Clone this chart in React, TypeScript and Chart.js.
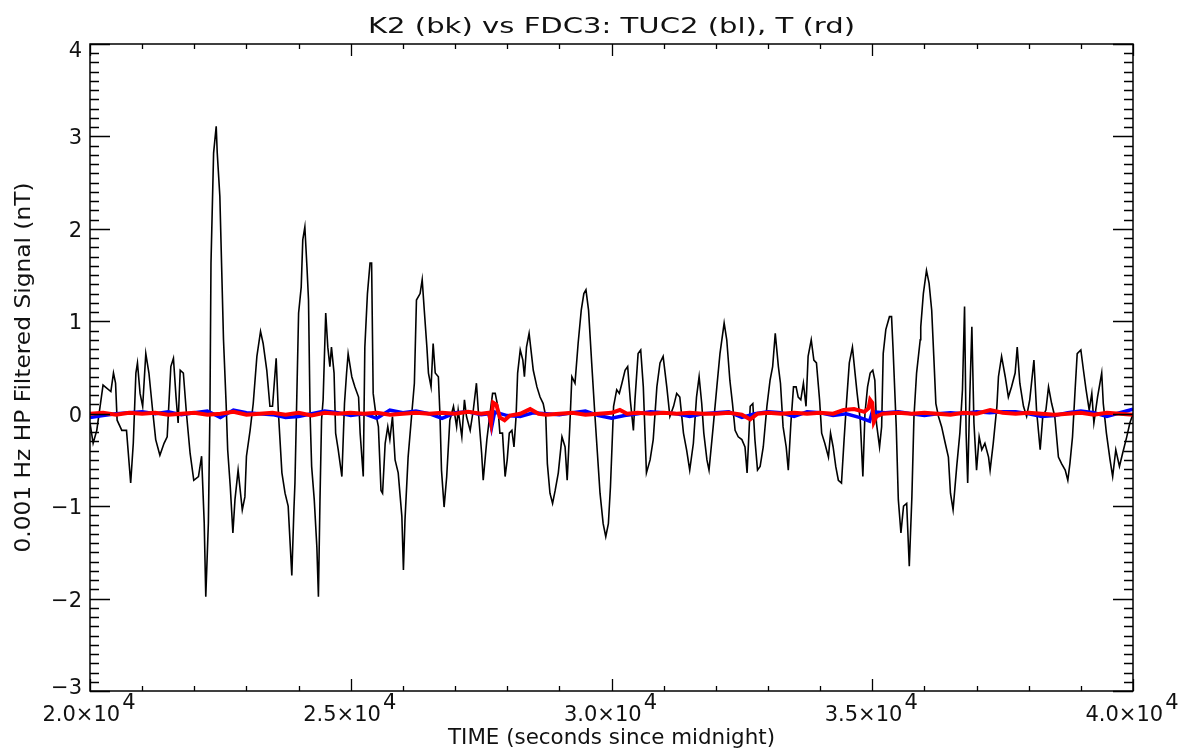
import React, { useEffect, useRef } from "react";
import { Chart, registerables } from "chart.js";

Chart.register(...registerables);

const CANVAS_W = 1183;
const CANVAS_H = 753;

const TITLE = "K2 (bk) vs FDC3: TUC2 (bl), T (rd)";
const X_TITLE = "TIME (seconds since midnight)";
const Y_TITLE = "0.001 Hz HP Filtered Signal (nT)";

const X_MIN = 20000;
const X_MAX = 40000;
const Y_MIN = -3;
const Y_MAX = 4;
const xMajorTicks = [20000, 25000, 30000, 35000, 40000];
const xTickMantissa = ["2.0", "2.5", "3.0", "3.5", "4.0"];
const xTickExponent = "4";
const X_MINOR_STEP = 1000;
const yMajorTicks = [-3, -2, -1, 0, 1, 2, 3, 4];
const yTickLabels = ["\u22123", "\u22122", "\u22121", "0", "1", "2", "3", "4"];
const Y_MINOR_STEP = 0.1;

// K2 (black)
const k2Times = [
  20000, 20060, 20130, 20250, 20400, 20450, 20490, 20520, 20610, 20700, 20780, 20830, 20880, 20910, 20960,
  21010, 21070, 21130, 21200, 21260, 21340, 21420, 21480, 21550, 21600, 21650, 21690, 21730, 21790, 21850,
  21920, 21990, 22080, 22140, 22190, 22220, 22270, 22300, 22320, 22370, 22420, 22440, 22490, 22560, 22610,
  22640, 22690, 22740, 22780, 22840, 22920, 22970, 23000, 23070, 23130, 23200, 23270, 23320, 23390, 23450,
  23500, 23570, 23610, 23680, 23740, 23800, 23870, 23910, 23930, 24000, 24050, 24080, 24120, 24160, 24190,
  24220, 24250, 24300, 24350, 24380, 24410, 24440, 24470, 24520, 24560, 24600, 24630, 24680, 24710, 24760,
  24830, 24880, 24920, 24950, 25020, 25080, 25150, 25180, 25240, 25270, 25320, 25370, 25400, 25430, 25480,
  25530, 25580, 25610, 25660, 25710, 25750, 25800, 25850, 25910, 25980, 26010, 26040, 26100, 26170, 26220,
  26260, 26330, 26370, 26410, 26460, 26490, 26540, 26580, 26620, 26680, 26710, 26740, 26790, 26840, 26900,
  26970, 27030, 27060, 27130, 27180, 27220, 27290, 27350, 27410, 27450, 27510, 27540, 27610, 27670, 27720,
  27770, 27820, 27860, 27910, 27960, 28000, 28040, 28090, 28130, 28170, 28200, 28250, 28300, 28330, 28370,
  28420, 28470, 28500, 28570, 28630, 28690, 28740, 28770, 28820, 28870, 28920, 28980, 29050, 29110, 29150,
  29200, 29240, 29300, 29360, 29420, 29470, 29510, 29560, 29620, 29680, 29730, 29780, 29840, 29890, 29940,
  29980, 30040, 30100, 30150, 30200, 30260, 30310, 30360, 30420, 30450, 30510, 30560, 30610, 30670, 30740,
  30800, 30870, 30930, 30990, 31060, 31120, 31190, 31250, 31310, 31380, 31440, 31500, 31570, 31630, 31680,
  31730, 31770, 31830, 31870, 31950, 32020, 32080, 32160, 32210, 32270, 32320, 32370, 32430, 32500, 32560,
  32600, 32660, 32710, 32750, 32800, 32850, 32910, 32980, 33040, 33090, 33140, 33200, 33240, 33290, 33350,
  33390, 33440, 33490, 33540, 33580, 33630, 33680, 33730, 33770, 33830, 33880, 33930, 33990, 34030, 34090,
  34160, 34200, 34250, 34300, 34350, 34410, 34460, 34510, 34560, 34620, 34670, 34710, 34770, 34820, 34860,
  34910, 34960, 35010, 35050, 35080, 35140, 35180, 35210, 35260, 35330, 35370, 35400, 35460, 35500, 35550,
  35600, 35660, 35710, 35760, 35800, 35850, 35920, 35930, 35980, 36040, 36090, 36140, 36180, 36220, 36270,
  36330, 36400, 36460, 36500, 36550, 36620, 36680, 36730, 36770, 36800, 36830, 36870, 36910, 36950, 37000,
  37050, 37100, 37160, 37230, 37260, 37320, 37390, 37420, 37480, 37550, 37610, 37670, 37740, 37780, 37830,
  37900, 37960, 38020, 38100, 38150, 38220, 38270, 38330, 38380, 38440, 38500, 38570, 38630, 38700, 38750,
  38790, 38840, 38890, 38930, 39000, 39050, 39100, 39160, 39210, 39250, 39320, 39400, 39430, 39490, 39560,
  39610, 39670, 39740, 39800, 39880, 39940, 40000,
];
const k2Values = [
  -0.10, -0.32, -0.18, 0.31, 0.24, 0.44, 0.33, -0.07, -0.18, -0.18, -0.75, -0.32, 0.44, 0.55, 0.22,
  0.08, 0.65, 0.44, 0.04, -0.28, -0.45, -0.32, -0.25, 0.51, 0.60, 0.18, -0.10, 0.47, 0.44, 0.00,
  -0.43, -0.72, -0.68, -0.46, -1.18, -1.98, -1.18, 0.04, 1.63, 2.82, 3.11, 2.82, 2.35, 0.80, 0.11,
  -0.39, -0.79, -1.29, -0.93, -0.61, -1.04, -0.90, -0.46, -0.18, 0.11, 0.62, 0.89, 0.76, 0.47, 0.08,
  0.08, 0.60, 0.04, -0.64, -0.86, -1.00, -1.75, -1.04, -0.75, 1.09, 1.37, 1.88, 2.02, 1.59, 1.23,
  0.00, -0.57, -0.93, -1.44, -1.98, -0.93, -0.07, 0.15, 1.09, 0.72, 0.51, 0.72, 0.44, -0.21, -0.39,
  -0.68, 0.11, 0.44, 0.65, 0.40, 0.29, 0.18, -0.21, -0.68, 0.72, 1.30, 1.63, 1.63, 0.22, 0.00,
  -0.14, -0.83, -0.86, -0.32, -0.14, -0.28, -0.03, -0.50, -0.64, -1.11, -1.69, -1.15, -0.47, 0.00, 0.33,
  1.23, 1.30, 1.45, 1.12, 0.72, 0.44, 0.29, 0.76, 0.44, 0.40, 0.00, -0.61, -1.01, -0.68, -0.07,
  0.08, -0.14, 0.04, -0.25, 0.15, -0.03, -0.18, 0.04, 0.33, 0.00, -0.43, -0.72, -0.28, 0.00, 0.22,
  0.22, 0.08, -0.21, -0.21, -0.68, -0.50, -0.21, -0.18, -0.36, -0.03, 0.44, 0.69, 0.58, 0.40, 0.72,
  0.87, 0.62, 0.47, 0.29, 0.18, 0.11, -0.03, -0.54, -0.86, -0.97, -0.83, -0.64, -0.25, -0.36, -0.72,
  -0.14, 0.40, 0.33, 0.76, 1.12, 1.30, 1.34, 1.12, 0.55, 0.00, -0.43, -0.86, -1.19, -1.33, -1.19,
  -0.79, 0.08, 0.26, 0.22, 0.33, 0.47, 0.51, 0.15, -0.18, 0.15, 0.65, 0.69, 0.29, -0.64, -0.50,
  -0.28, 0.29, 0.55, 0.62, 0.29, -0.03, 0.08, 0.22, 0.18, -0.21, -0.39, -0.61, -0.32, 0.18, 0.40,
  0.11, -0.21, -0.50, -0.61, -0.14, 0.29, 0.65, 0.98, 0.80, 0.36, 0.11, -0.18, -0.25, -0.28, -0.36,
  -0.64, 0.08, 0.11, -0.28, -0.61, -0.57, -0.36, 0.08, 0.36, 0.51, 0.87, 0.51, 0.33, -0.14, -0.36,
  -0.61, -0.10, 0.29, 0.29, 0.18, 0.15, 0.33, 0.08, 0.62, 0.80, 0.58, 0.55, 0.15, -0.21, -0.32,
  -0.47, -0.21, -0.36, -0.57, -0.72, -0.75, -0.28, 0.15, 0.55, 0.72, 0.44, 0.22, -0.07, -0.68, 0.00,
  0.29, 0.44, 0.47, 0.36, -0.10, -0.36, -0.14, 0.65, 0.91, 1.05, 1.05, 0.69, -0.14, -0.93, -1.29,
  -1.00, -0.97, -1.65, -0.90, -0.03, 0.44, 0.80, 0.94, 1.30, 1.55, 1.41, 1.12, 0.62, 0.11, -0.03,
  -0.14, -0.32, -0.47, -0.86, -1.04, -0.57, -0.21, 0.26, 1.16, -0.21, -0.75, 0.18, 0.94, -0.10, -0.61,
  -0.25, -0.39, -0.32, -0.47, -0.61, -0.32, 0.08, 0.40, 0.62, 0.40, 0.18, 0.29, 0.44, 0.72, 0.33,
  0.08, -0.03, 0.15, 0.58, 0.04, -0.39, -0.03, 0.04, 0.29, 0.11, -0.03, -0.47, -0.54, -0.61, -0.72,
  -0.54, -0.25, 0.26, 0.65, 0.69, 0.47, 0.26, 0.04, 0.22, -0.10, 0.18, 0.44, 0.11, -0.21, -0.50,
  -0.68, -0.39, -0.57, -0.43, -0.25, -0.10, 0.00,
];

// TUC2 (blue)
const tuc2Times = [
  20000, 20250, 20500, 20750, 21000, 21250, 21500, 21750, 22000, 22250, 22500, 22750, 23000, 23250, 23500,
  23750, 24000, 24250, 24500, 24750, 25000, 25250, 25500, 25750, 26000, 26250, 26500, 26750, 27000, 27250,
  27500, 27650, 27700, 27760, 28000, 28250, 28500, 28750, 29000, 29250, 29500, 29750, 30000, 30250, 30500,
  30750, 31000, 31250, 31500, 31750, 32000, 32250, 32500, 32750, 33000, 33250, 33500, 33750, 34000, 34250,
  34500, 34750, 34950, 35000, 35250, 35500, 35750, 36000, 36250, 36500, 36750, 37000, 37250, 37500, 37750,
  38000, 38250, 38500, 38750, 39000, 39250, 39500, 39750, 40000,
];
const tuc2Values = [
  -0.04, -0.02, 0.00, 0.01, 0.02, 0.00, 0.02, -0.01, 0.01, 0.03, -0.04, 0.04, 0.01, 0.00, -0.01,
  -0.04, -0.03, 0.00, 0.03, 0.01, -0.02, 0.00, -0.05, 0.04, 0.01, 0.03, 0.00, -0.05, 0.01, 0.02,
  -0.01, 0.00, -0.15, 0.02, -0.02, -0.03, 0.01, 0.00, -0.01, 0.01, 0.03, -0.02, -0.05, -0.02, 0.00,
  0.02, 0.01, 0.00, -0.03, 0.00, 0.01, 0.02, -0.04, 0.00, 0.02, 0.01, -0.03, 0.02, 0.01, -0.02,
  0.00, -0.04, -0.08, 0.02, 0.01, 0.02, 0.00, -0.02, 0.00, 0.01, 0.00, 0.02, 0.01, 0.02, 0.02,
  0.00, -0.03, -0.02, 0.01, 0.03, 0.01, -0.03, 0.01, 0.05,
];

// T (red)
const tTimes = [
  20000, 20250, 20500, 20750, 21000, 21250, 21500, 21750, 22000, 22250, 22500, 22750, 23000, 23250, 23500,
  23750, 24000, 24250, 24500, 24750, 25000, 25250, 25500, 25750, 26000, 26250, 26500, 26750, 27000, 27250,
  27500, 27650, 27690, 27730, 27790, 27860, 27950, 28050, 28250, 28440, 28600, 28750, 29000, 29250, 29500,
  29750, 30000, 30160, 30300, 30500, 30750, 31000, 31250, 31500, 31750, 32000, 32250, 32500, 32660, 32800,
  33000, 33250, 33500, 33750, 34000, 34250, 34450, 34650, 34850, 34930, 34960, 35000, 35030, 35080, 35200,
  35500, 35750, 36000, 36250, 36500, 36750, 37000, 37260, 37500, 37750, 38000, 38250, 38500, 38750, 39000,
  39250, 39500, 39750, 40000,
];
const tValues = [
  0.00, 0.01, -0.01, 0.01, 0.00, 0.01, -0.01, 0.00, 0.01, -0.01, 0.00, 0.02, -0.01, 0.00, 0.01,
  -0.01, 0.01, -0.02, 0.01, 0.00, 0.01, 0.00, 0.01, -0.01, 0.00, 0.01, 0.00, 0.01, 0.00, 0.02,
  0.00, 0.01, -0.10, 0.12, 0.10, -0.04, -0.07, -0.02, 0.00, 0.05, 0.00, -0.01, 0.00, 0.01, -0.01,
  0.00, 0.01, 0.04, 0.00, 0.01, 0.00, 0.01, 0.00, 0.01, 0.00, 0.00, 0.01, -0.01, -0.06, 0.00,
  0.01, 0.00, 0.01, 0.00, 0.01, 0.00, 0.04, 0.05, 0.02, 0.06, 0.15, 0.12, -0.09, -0.03, 0.00,
  0.01, 0.00, 0.01, 0.00, -0.01, 0.01, 0.00, 0.04, 0.01, 0.00, 0.01, 0.00, -0.01, 0.00, 0.01,
  -0.01, 0.01, 0.00, -0.01,
];

const FONT_FAMILY = '"DejaVu Sans", sans-serif';

function pairs(xs: number[], ys: number[]) {
  return xs.map((x, i) => ({ x, y: ys[i] }));
}

function drawFitText(
  ctx: CanvasRenderingContext2D,
  text: string,
  cx: number,
  baseline: number,
  width: number,
  size: number
) {
  ctx.save();
  ctx.font = `${size}px ${FONT_FAMILY}`;
  const w = ctx.measureText(text).width;
  const sx = width / w;
  ctx.translate(cx, baseline);
  ctx.scale(sx, 1);
  ctx.textAlign = "center";
  ctx.textBaseline = "alphabetic";
  ctx.fillText(text, 0, 0);
  ctx.restore();
}

const idlAxesPlugin = {
  id: "idlAxes",
  afterDraw(chart: any) {
    const { ctx, chartArea: a, scales } = chart;
    const xs = scales.x;
    const ys = scales.y;
    ctx.save();
    ctx.strokeStyle = "#000";
    ctx.fillStyle = "#111";
    ctx.lineWidth = 1.5;
    ctx.strokeRect(a.left, a.top, a.right - a.left, a.bottom - a.top);

    ctx.lineWidth = 1.3;
    ctx.beginPath();
    for (let v = X_MIN; v <= X_MAX + 1e-6; v += X_MINOR_STEP) {
      const px = Math.round(xs.getPixelForValue(v)) + 0.5;
      const major = xMajorTicks.includes(v);
      const len = major ? 12 : 5;
      ctx.moveTo(px, a.bottom);
      ctx.lineTo(px, a.bottom - len);
      ctx.moveTo(px, a.top);
      ctx.lineTo(px, a.top + len);
    }
    const nMinor = Math.round((Y_MAX - Y_MIN) / Y_MINOR_STEP);
    for (let i = 0; i <= nMinor; i++) {
      const v = Y_MIN + i * Y_MINOR_STEP;
      const py = Math.round(ys.getPixelForValue(v)) + 0.5;
      const major = i % 10 === 0;
      const len = major ? 20 : 9;
      ctx.moveTo(a.left, py);
      ctx.lineTo(a.left + len, py);
      ctx.moveTo(a.right, py);
      ctx.lineTo(a.right - len, py);
    }
    ctx.stroke();

    ctx.font = `21px ${FONT_FAMILY}`;
    ctx.textAlign = "right";
    ctx.textBaseline = "alphabetic";
    yMajorTicks.forEach((v, i) => {
      let py = ys.getPixelForValue(v) + 8;
      if (v === Y_MAX) py += 5;
      if (v === Y_MIN) py -= 5;
      ctx.fillText(yTickLabels[i], a.left - 8, py);
    });

    xMajorTicks.forEach((v, i) => {
      const px = xs.getPixelForValue(v);
      const base = `${xTickMantissa[i]}\u00d710`;
      ctx.font = `21px ${FONT_FAMILY}`;
      const bw = ctx.measureText(base).width;
      const ew = ctx.measureText(xTickExponent).width;
      const total = bw + 2 + ew;
      const left = px - total / 2 - 1;
      ctx.textAlign = "left";
      ctx.fillText(base, left, a.bottom + 30);
      ctx.fillText(xTickExponent, left + bw + 2, a.bottom + 18);
    });

    drawFitText(ctx, TITLE, (a.left + a.right) / 2, 33, 487, 21);
    drawFitText(ctx, X_TITLE, (a.left + a.right) / 2, 744, 327, 21);
    ctx.save();
    ctx.translate(30, (a.top + a.bottom) / 2);
    ctx.rotate(-Math.PI / 2);
    drawFitText(ctx, Y_TITLE, 0, 0, 370, 21);
    ctx.restore();

    ctx.restore();
  },
};

export default function App() {
  const canvasRef = useRef<HTMLCanvasElement | null>(null);

  useEffect(() => {
    const canvas = canvasRef.current;
    if (!canvas) return;
    const chart = new Chart(canvas, {
      type: "line",
      data: {
        datasets: [
          {
            label: "T (rd)",
            data: pairs(tTimes, tValues),
            borderColor: "#ff0000",
            borderWidth: 4,
            pointRadius: 0,
            tension: 0,
            order: 0,
          },
          {
            label: "TUC2 (bl)",
            data: pairs(tuc2Times, tuc2Values),
            borderColor: "#0000ff",
            borderWidth: 3.5,
            pointRadius: 0,
            tension: 0,
            order: 1,
          },
          {
            label: "K2 (bk)",
            data: pairs(k2Times, k2Values),
            borderColor: "#000000",
            borderWidth: 1.6,
            pointRadius: 0,
            tension: 0,
            order: 2,
          },
        ],
      },
      options: {
        responsive: false,
        animation: false,
        layout: { padding: { left: 90, top: 44, right: 50, bottom: 62 } },
        plugins: {
          legend: { display: false },
          title: { display: false },
          tooltip: { enabled: false },
        },
        scales: {
          x: { type: "linear", min: X_MIN, max: X_MAX, display: false },
          y: { type: "linear", min: Y_MIN, max: Y_MAX, display: false },
        },
      },
      plugins: [idlAxesPlugin],
    });
    return () => chart.destroy();
  }, []);

  return (
    <div style={{ position: "absolute", left: 0, top: 0, width: CANVAS_W, height: CANVAS_H, background: "#fff" }}>
      <canvas
        ref={canvasRef}
        width={CANVAS_W}
        height={CANVAS_H}
        style={{ display: "block", width: CANVAS_W, height: CANVAS_H }}
      />
    </div>
  );
}
